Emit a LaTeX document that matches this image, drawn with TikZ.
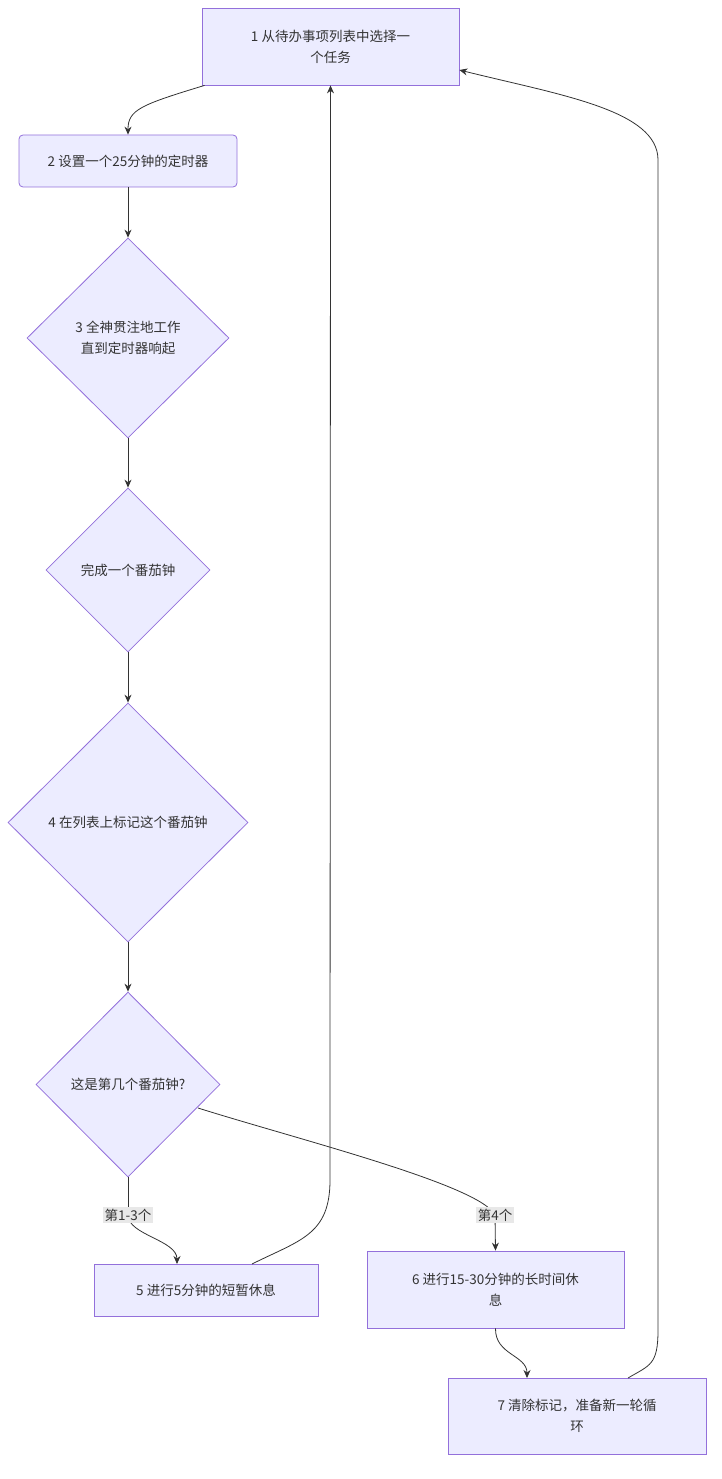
\documentclass[tikz,border=0pt]{standalone}
\usepackage{fontspec}
\setmainfont{Noto Sans CJK SC}
\usetikzlibrary{arrows.meta,shapes.geometric}
\definecolor{boxfill}{HTML}{ECECFF}
\definecolor{boxline}{HTML}{9370DB}
\definecolor{edge}{HTML}{333333}
\tikzset{
  box/.style={draw=boxline, fill=boxfill, line width=0.8pt, align=center, inner sep=0pt},
  choice/.style={diamond, draw=boxline, fill=boxfill, line width=0.8pt, align=center, inner sep=0pt, aspect=1},
  link/.style={draw=edge, line width=0.8pt, -{Stealth[length=8pt,width=7pt]}},
  tag/.style={fill=black!9, inner sep=1.5pt, text=edge}
}
\begin{document}
\begin{tikzpicture}[x=1pt,y=-1pt,font=\fontsize{13.5}{21}\selectfont,text=edge]
    \useasboundingbox (0,0) rectangle (722,1479);

    \node[box, minimum width=257pt, minimum height=77pt] (pick) at (330.5,46.5) {1 从待办事项列表中选择一\\个任务};
    \node[box, rounded corners=4pt, minimum width=218pt, minimum height=52pt] (timer) at (128,161) {2 设置一个25分钟的定时器};
    \node[choice, minimum width=202pt, minimum height=200pt] (work) at (128,338) {3 全神贯注地工作\\直到定时器响起};
    \node[choice, minimum width=164pt, minimum height=164pt] (done) at (128,570) {完成一个番茄钟};
    \node[choice, minimum width=240pt, minimum height=239pt] (mark) at (128,822.5) {4 在列表上标记这个番茄钟};
    \node[choice, minimum width=184pt, minimum height=185pt] (count) at (128,1084.5) {这是第几个番茄钟?};
    \node[box, minimum width=224pt, minimum height=52pt] (short) at (206,1290) {5 进行5分钟的短暂休息};
    \node[box, minimum width=257pt, minimum height=77pt] (long) at (495.5,1289.5) {6 进行15-30分钟的长时间休\\息};
    \node[box, minimum width=258pt, minimum height=76pt] (reset) at (577,1416) {7 清除标记，准备新一轮循\\环};

    \coordinate (s1) at (128,1215);
    \coordinate (s2) at (495,1215);

    \draw[link] (pick.south west) ++(3,0) .. controls (140,105) and (128,110) .. (timer.north);
    \draw[link] (timer) -- (work);
    \draw[link] (work) -- (done);
    \draw[link] (done) -- (mark);
    \draw[link] (mark) -- (count);
    \draw[draw=edge, line width=0.8pt] (count.south) -- (s1);
    \draw[link] (s1) .. controls (128,1235) and (177,1240) .. (177,1264);
    \draw[draw=edge, line width=0.8pt] (198,1108) .. controls (300,1140) and (480,1185) .. (s2);
    \draw[link] (s2) -- (long.north);
    \draw[link] (252,1264) .. controls (300,1240) and (330,1235) .. (330,1180) -- (pick.south);
    \draw[link] (long.south) .. controls (495,1355) and (527,1355) .. (527,1378);
    \draw[link] (628,1378) .. controls (650,1365) and (658,1365) .. (658,1330) -- (658,160) .. controls (658,110) and (560,95) .. (pick.east |- 0,70);

    \node[tag] at (s1) {第1-3个};
    \node[tag] at (s2) {第4个};

\end{tikzpicture}
\end{document}
